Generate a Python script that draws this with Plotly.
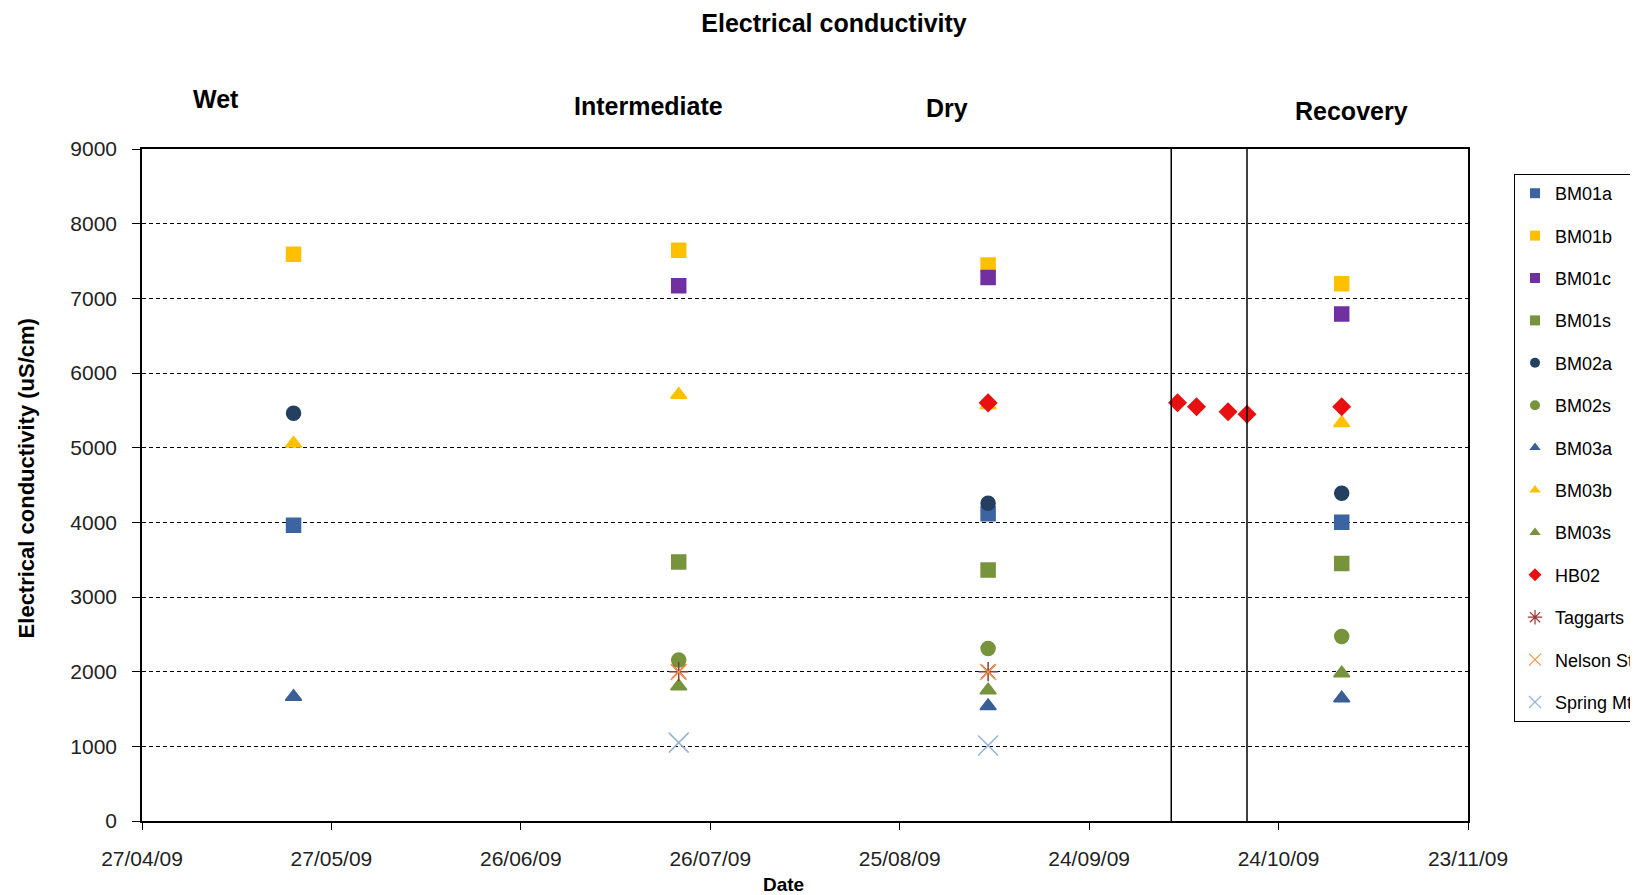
import plotly.graph_objects as go

# ---- data ----
wet = "2009-05-21"
inter = "2009-07-21"
dry = "2009-09-08"
rec = "2009-11-03"
hb_extra_dates = ["2009-10-08", "2009-10-11", "2009-10-16", "2009-10-19"]
divider_dates = ["2009-10-07", "2009-10-19"]

series_names = ["BM01a", "BM01b", "BM01c", "BM01s", "BM02a", "BM02s", "BM03a",
                "BM03b", "BM03s", "HB02", "Taggarts", "Nelson St", "Spring Mt"]

bm01a_x = [wet, dry, rec]
bm01a_y = [3960, 4115, 4000]
bm01b_x = [wet, inter, dry, rec]
bm01b_y = [7590, 7645, 7445, 7195]
bm01c_x = [inter, dry, rec]
bm01c_y = [7170, 7280, 6790]
bm01s_x = [inter, dry, rec]
bm01s_y = [3470, 3360, 3450]
bm02a_x = [wet, dry, rec]
bm02a_y = [5460, 4255, 4390]
bm02s_x = [inter, dry, rec]
bm02s_y = [2155, 2310, 2470]
bm03a_x = [wet, dry, rec]
bm03a_y = [1665, 1540, 1643]
bm03b_x = [wet, inter, dry, rec]
bm03b_y = [5055, 5710, 5570, 5330]
bm03s_x = [inter, dry, rec]
bm03s_y = [1805, 1750, 1978]
hb02_x = [dry] + hb_extra_dates + [rec]
hb02_y = [5600, 5602, 5548, 5481, 5447, 5548]
taggarts_x = [inter, dry]
taggarts_y = [2000, 2000]
nelson_x = [inter, dry]
nelson_y = [1995, 1995]
spring_x = [inter, dry]
spring_y = [1050, 1010]

phase_labels = ["Wet", "Intermediate", "Dry", "Recovery"]
x_title = "Date"
y_title = "Electrical conductivity (uS/cm)"

# ---- styles ----
styles = {
    "BM01a": dict(symbol="square", color="#3B64A0", size=14),
    "BM01b": dict(symbol="square", color="#FFC000", size=14),
    "BM01c": dict(symbol="square", color="#7030A0", size=14),
    "BM01s": dict(symbol="square", color="#77933C", size=14),
    "BM02a": dict(symbol="circle", color="#243F60", size=14),
    "BM02s": dict(symbol="circle", color="#77933C", size=14),
    "BM03a": dict(symbol="triangle-up", color="#3A5F95", size=14),
    "BM03b": dict(symbol="triangle-up", color="#FFC000", size=14),
    "BM03s": dict(symbol="triangle-up", color="#77933C", size=14),
    "HB02": dict(symbol="diamond", color="#E81010", size=13),
    "Taggarts": dict(symbol="asterisk-open", color="#953735", size=16),
    "Nelson St": dict(symbol="x-thin-open", color="#F79646", size=16),
    "Spring Mt": dict(symbol="x-thin-open", color="#95B3D7", size=20),
}

data = {
    "BM01a": (bm01a_x, bm01a_y), "BM01b": (bm01b_x, bm01b_y),
    "BM01c": (bm01c_x, bm01c_y), "BM01s": (bm01s_x, bm01s_y),
    "BM02a": (bm02a_x, bm02a_y), "BM02s": (bm02s_x, bm02s_y),
    "BM03a": (bm03a_x, bm03a_y), "BM03b": (bm03b_x, bm03b_y),
    "BM03s": (bm03s_x, bm03s_y), "HB02": (hb02_x, hb02_y),
    "Taggarts": (taggarts_x, taggarts_y), "Nelson St": (nelson_x, nelson_y),
    "Spring Mt": (spring_x, spring_y),
}

FONT = "Liberation Sans, Arial, sans-serif"
fig = go.Figure()

for name in series_names:
    xs, ys = data[name]
    st = styles[name]
    fig.add_trace(go.Scatter(
        x=xs, y=ys, mode="markers", name=name, showlegend=False,
        marker=dict(symbol=st["symbol"], color=st["color"], size=st["size"],
                    line=dict(color=st["color"], width=1.5)),
    ))

# legend entries with small markers
for name in series_names:
    st = styles[name]
    open_sym = st["symbol"].endswith("open")
    fig.add_trace(go.Scatter(
        x=[None], y=[None], mode="markers", name=name, showlegend=True,
        legendgroup=name,
        marker=dict(symbol=st["symbol"], color=st["color"],
                    size=12 if open_sym else 10,
                    line=dict(color=st["color"], width=1.2 if open_sym else 0)),
    ))

for d in divider_dates:
    fig.add_shape(type="line", xref="x", yref="paper", x0=d, x1=d, y0=0, y1=1,
                  line=dict(color="black", width=1.5))

phase_pos = [(0.0558, 1.0744), (0.3816, 1.064), (0.607, 1.061), (0.9118, 1.0565)]
for lab, (px, py) in zip(phase_labels, phase_pos):
    fig.add_annotation(text="<b>" + lab + "</b>", x=px, y=py, xref="paper", yref="paper",
                       showarrow=False, xanchor="center", yanchor="middle",
                       font=dict(family=FONT, size=25, color="black"))

# axis titles
fig.add_annotation(text="<b>" + x_title + "</b>", x=0.4838, y=-0.0938,
                   xref="paper", yref="paper", showarrow=False,
                   xanchor="center", yanchor="middle",
                   font=dict(family=FONT, size=19, color="black"))
fig.add_annotation(text="<b>" + y_title + "</b>", x=-0.0875, y=0.5098,
                   xref="paper", yref="paper", showarrow=False, textangle=-90,
                   xanchor="center", yanchor="middle",
                   font=dict(family=FONT, size=22, color="black"))

fig.update_layout(
    width=1638, height=895,
    paper_bgcolor="white", plot_bgcolor="white",
    font=dict(family=FONT, color="black"),
    title=dict(text="<b>Electrical conductivity</b>", x=0.5043, y=0.9832,
               xanchor="center", yanchor="middle",
               font=dict(family=FONT, size=25, color="black")),
    margin=dict(l=134, r=178, t=141, b=82, autoexpand=False),
    legend=dict(x=1.0347, y=0.9628, xanchor="left", yanchor="top",
                bordercolor="black", borderwidth=1, bgcolor="white",
                font=dict(family=FONT, size=18, color="black"),
                tracegroupgap=16, itemclick=False),
    xaxis=dict(
        type="date", range=["2009-04-27", "2009-11-23"],
        tick0="2009-04-27", dtick=30 * 86400000, tickformat="%d/%m/%y",
        showgrid=False, zeroline=False,
        showline=True, linecolor="black", linewidth=1.5, mirror=True,
        ticks="outside", ticklen=7, tickcolor="black", ticklabelstandoff=11,
        tickfont=dict(family=FONT, size=21, color="#222"),
    ),
    yaxis=dict(
        range=[0, 9000], tick0=0, dtick=1000,
        showgrid=True, gridcolor="black", gridwidth=1, griddash="4px,3px",
        zeroline=False,
        showline=True, linecolor="black", linewidth=1.5, mirror=True,
        ticks="outside", ticklen=8, tickcolor="black", ticklabelstandoff=11,
        tickfont=dict(family=FONT, size=21, color="#222"),
    ),
)

fig.write_html("out.html")
